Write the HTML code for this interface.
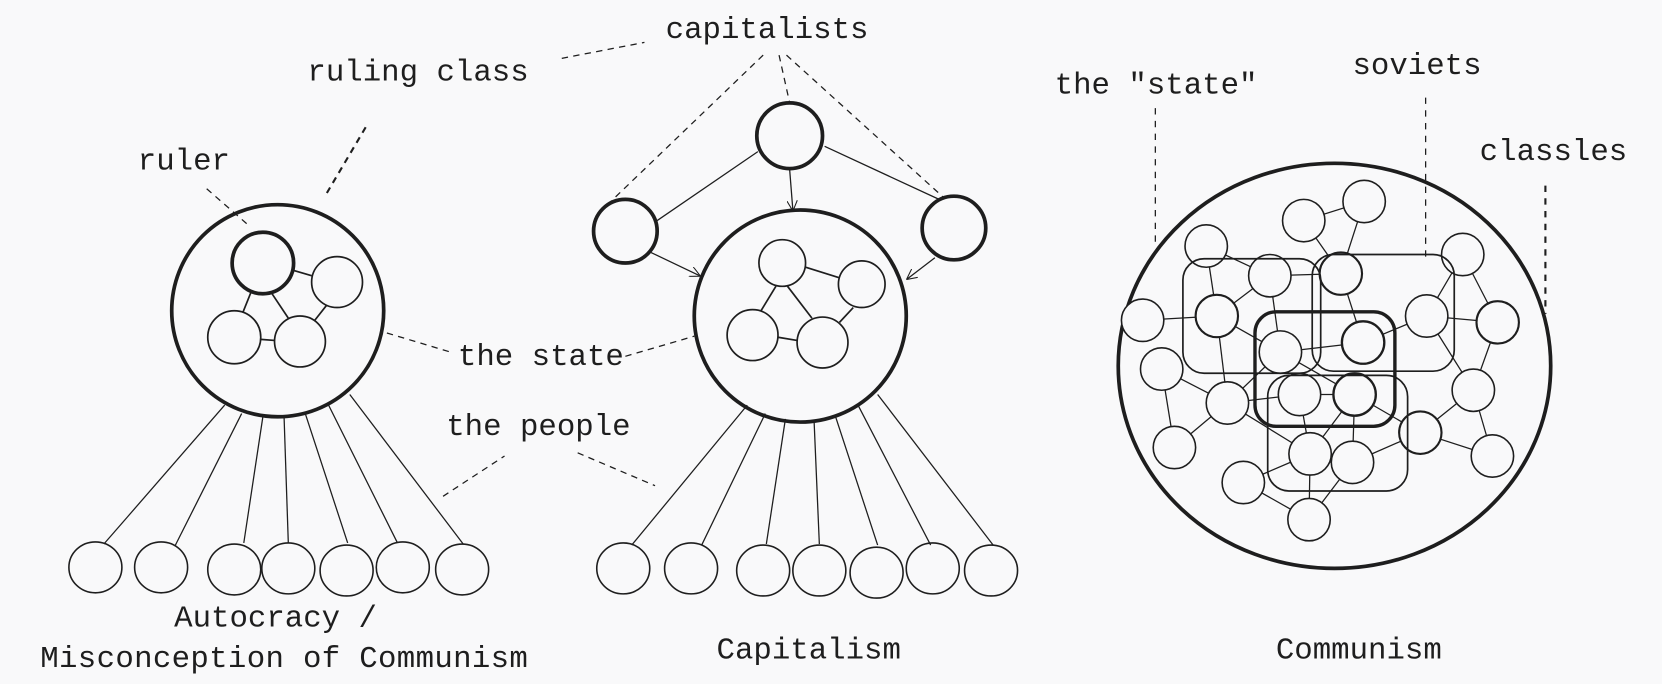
<!DOCTYPE html>
<html><head><meta charset="utf-8"><style>
html,body{margin:0;padding:0;background:#f9f9fa;}
svg{display:block}
text{font-family:"Liberation Mono",monospace;font-size:29px;fill:#1e1e1e}
</style></head><body>
<svg width="1662" height="684" viewBox="0 0 1568 645" preserveAspectRatio="none" xmlns="http://www.w3.org/2000/svg">
<rect width="1568" height="645" fill="#f9f9fa"/>
<defs><marker id="ar" viewBox="0 0 10 10" refX="9" refY="5" markerWidth="10" markerHeight="10" orient="auto" markerUnits="userSpaceOnUse"><path d="M0,0 L10,5 L0,10" fill="none" stroke="#1e1e1e" stroke-width="1"/></marker></defs>
<g fill="none" stroke="#1e1e1e">
<!-- LEFT -->
<circle cx="262" cy="293" r="100" stroke-width="3.5"/>
<circle cx="248" cy="248" r="29" stroke-width="3.5"/>
<g stroke-width="1.6">
<circle cx="318" cy="266" r="24"/><circle cx="221" cy="318" r="25"/><circle cx="283" cy="322" r="24"/>
<line x1="277" y1="255" x2="294" y2="260"/><line x1="237" y1="275" x2="229" y2="295"/><line x1="256" y1="276" x2="272" y2="300"/><line x1="246" y1="320" x2="259" y2="321"/><line x1="308" y1="288" x2="297" y2="302"/>
</g>
<g stroke-width="1.2">
<line x1="212" y1="382" x2="98" y2="513"/><line x1="228" y1="390" x2="165" y2="515"/><line x1="248" y1="393" x2="230" y2="512"/><line x1="268" y1="393" x2="272" y2="512"/><line x1="288" y1="390" x2="328" y2="512"/><line x1="310" y1="382" x2="375" y2="512"/><line x1="330" y1="372" x2="437" y2="513"/>
</g>
<g stroke-width="1.5">
<ellipse cx="90" cy="535" rx="25" ry="24"/><ellipse cx="152" cy="535" rx="25" ry="24"/><ellipse cx="221" cy="537" rx="25" ry="24"/><ellipse cx="272" cy="536" rx="25" ry="24"/><ellipse cx="327" cy="538" rx="25" ry="24"/><ellipse cx="380" cy="535" rx="25" ry="24"/><ellipse cx="436" cy="537" rx="25" ry="24"/>
</g>
<g stroke-width="1.2" stroke-dasharray="6,5">
<line x1="195" y1="178" x2="234" y2="212"/>
<line x1="345" y1="120" x2="306" y2="186" stroke-width="2"/>
<line x1="530" y1="55" x2="608" y2="40"/>
<line x1="365" y1="314" x2="425" y2="332"/>
<line x1="590" y1="336" x2="655" y2="317"/>
<line x1="418" y1="468" x2="476" y2="430"/>
<line x1="545" y1="427" x2="618" y2="458"/>
<line x1="720" y1="52" x2="570" y2="196"/>
<line x1="735" y1="52" x2="745" y2="97"/>
<line x1="742" y1="52" x2="890" y2="186"/>
</g>
<!-- MIDDLE -->
<circle cx="745" cy="128" r="31" stroke-width="3.5"/>
<circle cx="590" cy="218" r="30" stroke-width="3.5"/>
<circle cx="900" cy="215" r="30" stroke-width="3.5"/>
<circle cx="755" cy="298" r="100" stroke-width="3.5"/>
<g stroke-width="1.2">
<line x1="715" y1="143" x2="620" y2="208"/><line x1="778" y1="138" x2="886" y2="188"/>
<line x1="745" y1="160" x2="748" y2="198" marker-end="url(#ar)"/>
<line x1="614" y1="238" x2="660" y2="260" marker-end="url(#ar)"/>
<line x1="882" y1="243" x2="856" y2="263" marker-end="url(#ar)"/>
</g>
<g stroke-width="1.6">
<circle cx="738" cy="248" r="22"/><circle cx="813" cy="268" r="22"/><circle cx="710" cy="316" r="24"/><circle cx="776" cy="323" r="24"/>
<line x1="760" y1="252" x2="792" y2="262"/><line x1="732" y1="270" x2="718" y2="293"/><line x1="743" y1="270" x2="766" y2="300"/><line x1="734" y1="318" x2="752" y2="321"/><line x1="805" y1="290" x2="792" y2="304"/>
</g>
<g stroke-width="1.2">
<line x1="705" y1="382" x2="596" y2="514"/><line x1="722" y1="390" x2="662" y2="514"/><line x1="741" y1="395" x2="723" y2="513"/><line x1="768" y1="396" x2="773" y2="513"/><line x1="788" y1="392" x2="828" y2="514"/><line x1="810" y1="383" x2="878" y2="514"/><line x1="828" y1="372" x2="937" y2="514"/>
</g>
<g stroke-width="1.5">
<ellipse cx="588" cy="536" rx="25" ry="24"/><ellipse cx="652" cy="536" rx="25" ry="24"/><ellipse cx="720" cy="538" rx="25" ry="24"/><ellipse cx="773" cy="538" rx="25" ry="24"/><ellipse cx="827" cy="540" rx="25" ry="24"/><ellipse cx="880" cy="536" rx="25" ry="24"/><ellipse cx="935" cy="538" rx="25" ry="24"/>
</g>
<!-- RIGHT -->
<ellipse cx="1259" cy="345" rx="204" ry="191" stroke-width="3.5"/>
<g stroke-width="1.2">
<line x1="1138" y1="232" x2="1198" y2="260"/><line x1="1138" y1="232" x2="1148" y2="298"/><line x1="1230" y1="208" x2="1287" y2="190"/><line x1="1230" y1="208" x2="1265" y2="258"/><line x1="1287" y1="190" x2="1265" y2="258"/>
<line x1="1198" y1="260" x2="1265" y2="258"/><line x1="1198" y1="260" x2="1148" y2="298"/><line x1="1198" y1="260" x2="1208" y2="332"/><line x1="1078" y1="302" x2="1148" y2="298"/><line x1="1148" y1="298" x2="1208" y2="332"/><line x1="1148" y1="298" x2="1158" y2="380"/>
<line x1="1265" y1="258" x2="1286" y2="323"/><line x1="1286" y1="323" x2="1346" y2="298"/><line x1="1208" y1="332" x2="1286" y2="323"/><line x1="1346" y1="298" x2="1380" y2="240"/><line x1="1346" y1="298" x2="1413" y2="304"/><line x1="1380" y1="240" x2="1413" y2="304"/><line x1="1413" y1="304" x2="1390" y2="368"/><line x1="1346" y1="298" x2="1390" y2="368"/>
<line x1="1208" y1="332" x2="1278" y2="372"/><line x1="1208" y1="332" x2="1158" y2="380"/><line x1="1096" y1="348" x2="1158" y2="380"/><line x1="1096" y1="348" x2="1108" y2="422"/><line x1="1108" y1="422" x2="1158" y2="380"/><line x1="1158" y1="380" x2="1226" y2="372"/><line x1="1158" y1="380" x2="1236" y2="428"/>
<line x1="1226" y1="372" x2="1278" y2="372"/><line x1="1226" y1="372" x2="1236" y2="428"/><line x1="1278" y1="372" x2="1236" y2="428"/><line x1="1278" y1="372" x2="1276" y2="436"/><line x1="1278" y1="372" x2="1340" y2="408"/><line x1="1390" y1="368" x2="1340" y2="408"/><line x1="1390" y1="368" x2="1408" y2="430"/><line x1="1340" y1="408" x2="1408" y2="430"/>
<line x1="1276" y1="436" x2="1340" y2="408"/><line x1="1173" y1="455" x2="1236" y2="428"/><line x1="1173" y1="455" x2="1235" y2="490"/><line x1="1236" y1="428" x2="1235" y2="490"/><line x1="1276" y1="436" x2="1235" y2="490"/>
</g>
<g stroke-width="1.5" fill="#f9f9fa">
<circle cx="1138" cy="232" r="20"/><circle cx="1230" cy="208" r="20"/><circle cx="1287" cy="190" r="20"/><circle cx="1380" cy="240" r="20"/><circle cx="1198" cy="260" r="20"/><circle cx="1265" cy="258" r="20" stroke-width="2"/><circle cx="1078" cy="302" r="20"/><circle cx="1148" cy="298" r="20" stroke-width="2"/><circle cx="1346" cy="298" r="20"/><circle cx="1413" cy="304" r="20" stroke-width="2"/><circle cx="1208" cy="332" r="20"/><circle cx="1286" cy="323" r="20" stroke-width="2.2"/><circle cx="1096" cy="348" r="20"/><circle cx="1158" cy="380" r="20"/><circle cx="1226" cy="372" r="20"/><circle cx="1278" cy="372" r="20" stroke-width="2.2"/><circle cx="1390" cy="368" r="20"/><circle cx="1340" cy="408" r="20" stroke-width="2"/><circle cx="1108" cy="422" r="20"/><circle cx="1236" cy="428" r="20"/><circle cx="1276" cy="436" r="20"/><circle cx="1173" cy="455" r="20"/><circle cx="1408" cy="430" r="20"/><circle cx="1235" cy="490" r="20"/>
</g>
<g stroke-width="1.6">
<rect x="1116" y="244" width="130" height="108" rx="20"/>
<rect x="1238" y="240" width="134" height="110" rx="20"/>
<rect x="1196" y="354" width="132" height="109" rx="20"/>
<rect x="1184" y="294" width="132" height="108" rx="20" stroke-width="3.2"/>
</g>
<g stroke-width="1.2" stroke-dasharray="6,6">
<line x1="1090" y1="102" x2="1090" y2="230"/>
<line x1="1345" y1="92" x2="1345" y2="242"/>
<line x1="1458" y1="175" x2="1458" y2="296" stroke-width="2"/>
</g>
</g>
<text x="130" y="160">ruler</text>
<text x="290" y="76">ruling class</text>
<text x="628" y="36">capitalists</text>
<text x="432" y="344">the state</text>
<text x="421" y="410">the people</text>
<text x="260" y="591" text-anchor="middle">Autocracy /</text>
<text x="268" y="629" text-anchor="middle" textLength="460">Misconception of Communism</text>
<text x="763" y="621" text-anchor="middle">Capitalism</text>
<text x="995" y="88">the "state"</text>
<text x="1276" y="70">soviets</text>
<text x="1396" y="151">classles</text>
<text x="1282" y="621" text-anchor="middle">Communism</text>
</svg>
</body></html>
